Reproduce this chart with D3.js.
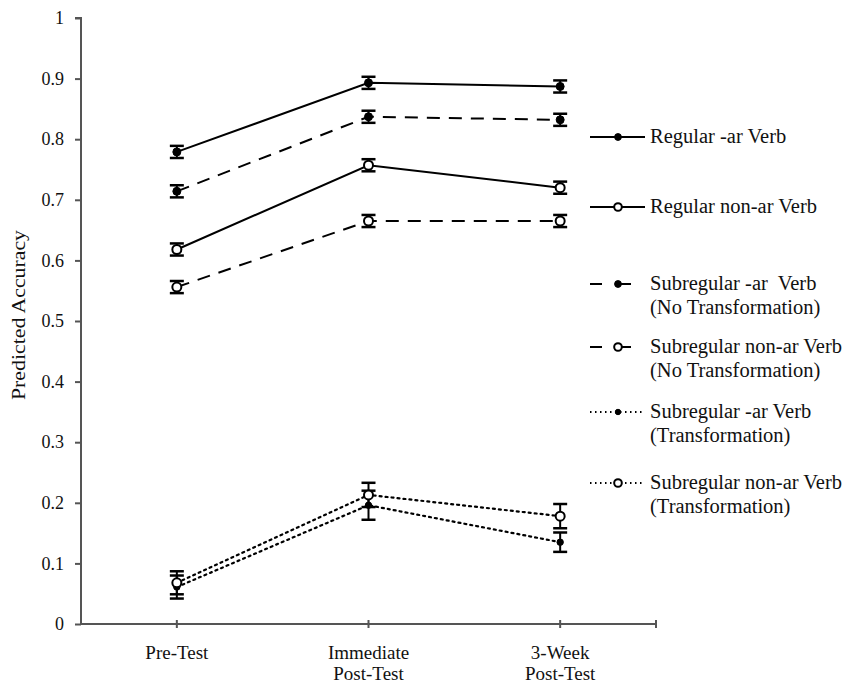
<!DOCTYPE html>
<html><head><meta charset="utf-8">
<script src="https://cdn.jsdelivr.net/npm/d3@7/dist/d3.min.js"></script>
<style>body{margin:0;background:#fff}svg{display:block}</style>
</head><body>
<svg id="chart" width="848" height="684"></svg>
<script>
const categories = ["Pre-Test", "Immediate|Post-Test", "3-Week|Post-Test"];
const seriesNames = ["Regular -ar Verb", "Regular non-ar Verb", "Subregular -ar  Verb|(No Transformation)", "Subregular non-ar Verb|(No Transformation)", "Subregular -ar Verb|(Transformation)", "Subregular non-ar Verb|(Transformation)"];
const regularAr = [0.779, 0.893, 0.887];
const regularNonAr = [0.618, 0.757, 0.720];
const subArNoT = [0.714, 0.837, 0.832];
const subNonArNoT = [0.556, 0.665, 0.665];
const subArT = [0.061, 0.196, 0.135];
const subNonArT = [0.068, 0.213, 0.178];
const errRegularAr = [0.01, 0.01, 0.01];
const errRegularNonAr = [0.01, 0.01, 0.01];
const errSubArNoT = [0.01, 0.01, 0.01];
const errSubNonArNoT = [0.01, 0.01, 0.01];
const errSubArT = [0.019, 0.024, 0.016];
const errSubNonArT = [0.019, 0.02, 0.02];
const yTicks = [0, 0.1, 0.2, 0.3, 0.4, 0.5, 0.6, 0.7, 0.8, 0.9, 1];

const styles = [
  {dash: null, fill: "#000", r: 4},
  {dash: null, fill: "#fff", r: 4.5},
  {dash: "13,9", fill: "#000", r: 4},
  {dash: "13,9", fill: "#fff", r: 4.5},
  {dash: "2,4", fill: "#000", r: 3.2},
  {dash: "2,4", fill: "#fff", r: 4.5}
];
const values = [regularAr, regularNonAr, subArNoT, subNonArNoT, subArT, subNonArT];
const errors = [errRegularAr, errRegularNonAr, errSubArNoT, errSubNonArNoT, errSubArT, errSubNonArT];
const series = seriesNames.map((n, i) => ({name: n, vals: values[i], errs: errors[i], st: styles[i]}));
const drawOrder = [4, 5, 3, 2, 1, 0];

const svg = d3.select("#chart");
const font = "'Liberation Serif','Times New Roman',serif";
const x = d3.scaleBand().domain(categories).range([81, 656]);
const y = d3.scaleLinear().domain([0, 1]).range([624, 18]);
const cx = c => x(c) + x.bandwidth() / 2;

// y axis
const yAxis = svg.append("g").attr("transform", "translate(81,0)")
  .call(d3.axisLeft(y).tickValues(yTicks).tickFormat(d => d === 0 || d === 1 ? d3.format("d")(d) : d3.format(".1f")(d)).tickSize(6).tickPadding(11));
yAxis.select(".domain").attr("d", `M-6,${y(1)}H0V${y(0)}`);
yAxis.selectAll("line, .domain").attr("stroke", "#555").attr("stroke-width", 2);
yAxis.selectAll("text").attr("font-family", font).attr("font-size", 18).attr("fill", "#111");

// x axis
const xAxis = svg.append("g").attr("transform", `translate(0,${y(0)})`);
xAxis.append("line").attr("x1", 81).attr("x2", 656).attr("stroke", "#555").attr("stroke-width", 2);
const xTickPos = categories.map(cx).concat([656]);
xAxis.selectAll("line.tk").data(xTickPos).enter().append("line").attr("class", "tk")
  .attr("x1", d => d).attr("x2", d => d).attr("y1", -4).attr("y2", 4).attr("stroke", "#555").attr("stroke-width", 2);
categories.forEach(c => {
  const t = xAxis.append("text").attr("text-anchor", "middle").attr("font-family", font).attr("font-size", 19).attr("fill", "#111")
    .attr("transform", `translate(${cx(c)},35)`);
  c.split("|").forEach((l, i) => t.append("tspan").attr("x", 0).attr("dy", i ? 21 : 0).text(l));
});

// y title
svg.append("text").attr("transform", "translate(25,315) rotate(-90)").attr("text-anchor", "middle")
  .attr("font-family", font).attr("font-size", 19).attr("fill", "#111")
  .attr("textLength", 170).attr("lengthAdjust", "spacingAndGlyphs").text("Predicted Accuracy");

const line = d3.line().x((d, i) => cx(categories[i])).y(d => y(d));
const plot = svg.append("g");
drawOrder.forEach(k => {
  const s = series[k];
  plot.append("path").datum(s.vals).attr("d", line).attr("fill", "none").attr("stroke", "#000")
    .attr("stroke-width", s.st.dash === "2,4" ? 2.2 : 2).attr("stroke-dasharray", s.st.dash)
    .attr("stroke-linecap", s.st.dash === "2,4" ? "round" : "butt");
});
drawOrder.forEach(k => {
  const s = series[k];
  const g = plot.append("g");
  s.vals.forEach((v, i) => {
    const px = cx(categories[i]);
    const y1 = y(v + s.errs[i]), y2 = y(v - s.errs[i]);
    g.append("line").attr("x1", px).attr("x2", px).attr("y1", y1).attr("y2", y2).attr("stroke", "#000").attr("stroke-width", 2);
    [y1, y2].forEach(yy => g.append("line").attr("x1", px - 7).attr("x2", px + 7).attr("y1", yy).attr("y2", yy).attr("stroke", "#000").attr("stroke-width", 2.5));
  });
  g.selectAll("circle").data(s.vals).enter().append("circle")
    .attr("cx", (d, i) => cx(categories[i])).attr("cy", d => y(d)).attr("r", s.st.r)
    .attr("fill", s.st.fill).attr("stroke", "#000").attr("stroke-width", s.st.fill === "#fff" ? 2 : 1);
});

// legend
const legendY = [137, 207, 284, 347, 412, 483];
const leg = svg.append("g");
series.forEach((s, i) => {
  const ly = legendY[i];
  leg.append("line").attr("x1", 590).attr("x2", 645).attr("y1", ly).attr("y2", ly).attr("stroke", "#000")
    .attr("stroke-width", 2).attr("stroke-dasharray", s.st.dash ? (s.st.dash === "2,4" ? "1.5,3.5" : "12,17") : null);
  leg.append("circle").attr("cx", 618).attr("cy", ly).attr("r", s.st.r * 0.85).attr("fill", s.st.fill).attr("stroke", "#000").attr("stroke-width", s.st.fill === "#fff" ? 2 : 1);
  const t = leg.append("text").attr("font-family", font).attr("font-size", 20.5).attr("fill", "#111")
    .attr("transform", `translate(650,${ly + 6})`).attr("xml:space", "preserve");
  s.name.split("|").forEach((l, j) => t.append("tspan").attr("x", 0).attr("dy", j ? 24 : 0).text(l));
});
</script>
</body></html>
